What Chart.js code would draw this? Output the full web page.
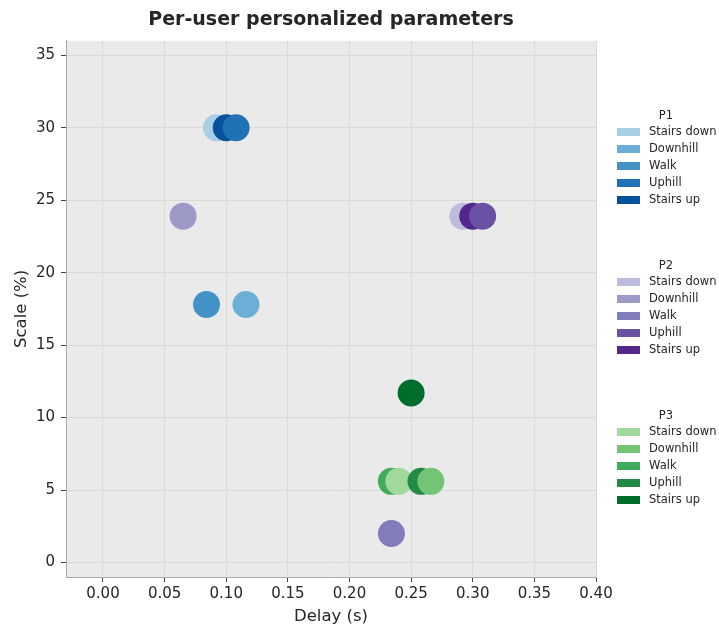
<!DOCTYPE html>
<html>
<head>
<meta charset="utf-8">
<script src="https://cdn.jsdelivr.net/npm/chart.js@4"></script>
<style>
  html, body { margin: 0; padding: 0; background: #ffffff; }
  #wrap { width: 719px; height: 631px; }
</style>
</head>
<body>
<div id="wrap"><canvas id="scatter_chart" width="719" height="631"></canvas></div>
<script>
const activities = ['Stairs down', 'Downhill', 'Walk', 'Uphill', 'Stairs up'];
const users = ['P1', 'P2', 'P3'];

const delayP1 = [0.092, 0.116, 0.084, 0.108, 0.100];
const scaleP1 = [30.0, 17.8, 17.8, 30.0, 30.0];
const delayP2 = [0.292, 0.065, 0.234, 0.308, 0.300];
const scaleP2 = [23.9, 23.9, 2.0, 23.9, 23.9];
const delayP3 = [0.240, 0.266, 0.234, 0.258, 0.250];
const scaleP3 = [5.6, 5.6, 5.6, 5.6, 11.7];

const xTicks = [0, 0.05, 0.10, 0.15, 0.20, 0.25, 0.30, 0.35, 0.40];
const yTicks = [0, 5, 10, 15, 20, 25, 30, 35];

const colorsP1 = ['#a8cfe5', '#6baed6', '#4292c6', '#2171b5', '#08519c'];
const colorsP2 = ['#bcbddc', '#9e9ac8', '#807dba', '#6a51a3', '#54278f'];
const colorsP3 = ['#a1d99b', '#74c476', '#41ab5d', '#238b45', '#006d2c'];

const delays = [delayP1, delayP2, delayP3];
const scales = [scaleP1, scaleP2, scaleP3];
const colors = [colorsP1, colorsP2, colorsP3];

// order the points were stacked in (bottom first)
const drawOrder = ['Walk', 'Stairs down', 'Stairs up', 'Uphill', 'Downhill'];

const FONT = "'DejaVu Sans', sans-serif";
const TEXT = '#262626';

let datasets = [];
users.forEach((u, ui) => {
  drawOrder.forEach((act) => {
    const i = activities.indexOf(act);
    datasets.push({
      label: u + ' ' + act,
      data: [{x: delays[ui][i], y: scales[ui][i]}],
      backgroundColor: colors[ui][i],
      borderWidth: 0,
      pointRadius: 13.5,
      pointHoverRadius: 13.5
    });
  });
});
// first dataset is drawn on top in Chart.js
datasets.reverse();

const plotBackground = {
  id: 'plotBackground',
  beforeDraw(chart) {
    const {ctx, chartArea} = chart;
    ctx.save();
    ctx.fillStyle = '#eaeaea';
    ctx.fillRect(chartArea.left, chartArea.top, chartArea.right - chartArea.left, chartArea.bottom - chartArea.top);
    ctx.restore();
  }
};

const groupLegend = {
  id: 'groupLegend',
  afterDraw(chart) {
    const ctx = chart.ctx;
    const titleY = [115, 265, 415];
    ctx.save();
    ctx.font = '11.5px ' + FONT;
    ctx.textBaseline = 'middle';
    users.forEach((u, ui) => {
      ctx.fillStyle = TEXT;
      ctx.textAlign = 'center';
      ctx.fillText(u, 666, titleY[ui] + 1);
      activities.forEach((act, i) => {
        const y = titleY[ui] + 17 + i * 17;
        ctx.fillStyle = colors[ui][i];
        ctx.fillRect(617, y - 4, 23, 8);
        ctx.fillStyle = TEXT;
        ctx.textAlign = 'left';
        ctx.fillText(act, 649, y + 0.5);
      });
    });
    ctx.restore();
  }
};

const scatter_config = {
  type: 'scatter',
  data: { datasets: datasets },
  options: {
    responsive: false,
    animation: false,
    layout: { padding: { left: 0, right: 123, top: 0, bottom: 0 } },
    plugins: {
      legend: { display: false },
      tooltip: { enabled: false },
      title: {
        display: true,
        text: 'Per-user personalized parameters',
        fullSize: false,
        color: TEXT,
        font: { family: FONT, size: 19, weight: 'bold' },
        padding: { top: 9, bottom: 9 }
      }
    },
    scales: {
      x: {
        type: 'linear',
        min: -0.03,
        max: 0.40,
        afterBuildTicks: (scale) => { scale.ticks = xTicks.map(v => ({value: v})); },
        afterFit: (scale) => { scale.height = 54; },
        ticks: {
          color: TEXT,
          padding: 3,
          font: { family: FONT, size: 15 },
          callback: (v) => Number(v).toFixed(2)
        },
        grid: { color: '#d9d9d9', tickColor: '#444444', tickLength: 5 },
        border: { display: true, color: '#aaaaaa' },
        title: {
          display: true,
          text: 'Delay (s)',
          color: TEXT,
          font: { family: FONT, size: 16.5 },
          padding: { top: 0, bottom: 4 }
        }
      },
      y: {
        type: 'linear',
        min: -1,
        max: 36,
        afterBuildTicks: (scale) => { scale.ticks = yTicks.map(v => ({value: v})); },
        afterFit: (scale) => { scale.width = 66; },
        ticks: {
          color: TEXT,
          padding: 6,
          font: { family: FONT, size: 15 },
          callback: (v) => String(v)
        },
        grid: { color: '#d9d9d9', tickColor: '#444444', tickLength: 5 },
        border: { display: true, color: '#aaaaaa' },
        title: {
          display: true,
          text: 'Scale (%)',
          color: TEXT,
          font: { family: FONT, size: 16.5 },
          padding: { top: 12, bottom: 0 }
        }
      }
    }
  },
  plugins: [plotBackground, groupLegend]
};

const scatterChartElement = document.getElementById('scatter_chart');
const scatterChart = new Chart(scatterChartElement, scatter_config);
</script>
</body>
</html>
